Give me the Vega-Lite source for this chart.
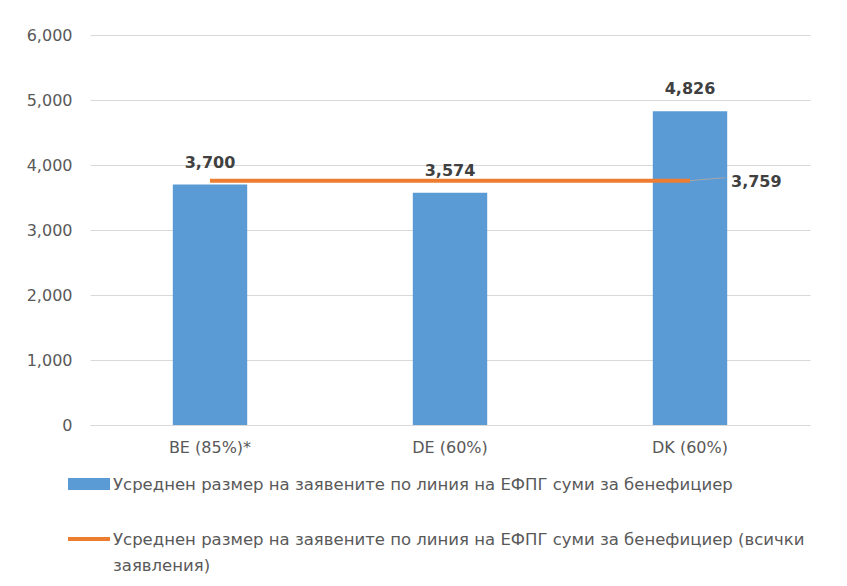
{
  "$schema": "https://vega.github.io/schema/vega-lite/v6.json",
  "width": 720,
  "height": 390,
  "autosize": {"type": "none"},
  "padding": {"left": 90, "top": 35, "right": 37, "bottom": 161},
  "background": "white",
  "config": {
    "font": "DejaVu Sans",
    "view": {"stroke": null}
  },
  "data": {
    "values": [
      {"country": "BE (85%)*", "series": "Усреднен размер на заявените по линия на ЕФПГ суми за бенефициер", "value": 3700},
      {"country": "DE (60%)", "series": "Усреднен размер на заявените по линия на ЕФПГ суми за бенефициер", "value": 3574},
      {"country": "DK (60%)", "series": "Усреднен размер на заявените по линия на ЕФПГ суми за бенефициер", "value": 4826},
      {"country": "BE (85%)*", "series": "Усреднен размер на заявените по линия на ЕФПГ суми за бенефициер (всички заявления)", "value": 3759},
      {"country": "DE (60%)", "series": "Усреднен размер на заявените по линия на ЕФПГ суми за бенефициер (всички заявления)", "value": 3759},
      {"country": "DK (60%)", "series": "Усреднен размер на заявените по линия на ЕФПГ суми за бенефициер (всички заявления)", "value": 3759}
    ]
  },
  "encoding": {
    "x": {
      "field": "country",
      "type": "nominal",
      "sort": null,
      "scale": {"paddingInner": 0.69, "paddingOuter": 0.345},
      "axis": {
        "title": null,
        "labelAngle": 0,
        "ticks": false,
        "domainColor": "#d9d9d9",
        "labelColor": "#595959",
        "labelFontSize": 16,
        "labelPadding": 14
      }
    },
    "y": {
      "field": "value",
      "type": "quantitative",
      "scale": {"domain": [0, 6000]},
      "axis": {
        "title": null,
        "values": [0, 1000, 2000, 3000, 4000, 5000, 6000],
        "format": ",.0f",
        "domain": false,
        "ticks": false,
        "gridColor": "#d9d9d9",
        "labelColor": "#595959",
        "labelFontSize": 16,
        "labelPadding": 18
      }
    }
  },
  "layer": [
    {
      "transform": [{"filter": "indexof(datum.series, 'всички') < 0"}],
      "mark": {"type": "bar"},
      "encoding": {
        "color": {
          "field": "series",
          "type": "nominal",
          "scale": {
            "domain": ["Усреднен размер на заявените по линия на ЕФПГ суми за бенефициер", "Усреднен размер на заявените по линия на ЕФПГ суми за бенефициер (всички заявления)"],
            "range": ["#5b9bd5", "#ed7d31"]
          },
          "legend": {
            "title": null,
            "orient": "none",
            "legendX": -22,
            "legendY": 428,
            "direction": "vertical",
            "labelFontSize": 16.5,
            "labelColor": "#595959",
            "labelLimit": 800,
            "labelOffset": 3,
            "rowPadding": 24,
            "symbolSize": 1764,
            "symbolType": "square",
            "labelExpr": "indexof(datum.label, 'всички') > 0 ? ['Усреднен размер на заявените по линия на ЕФПГ суми за бенефициер (всички', 'заявления)'] : datum.label",
            "encode": {
              "symbols": {
                "update": {
                  "shape": {"signal": "indexof(datum.value, 'всички') > 0 ? 'M-1,-0.09H1V0.09H-1Z' : 'M-1,-0.29H1V0.29H-1Z'"},
                  "fill": {"scale": "color", "field": "value"},
                  "strokeWidth": {"value": 0},
                  "opacity": {"value": 1}
                }
              },
              "labels": {
                "update": {
                  "lineHeight": {"value": 26},
                  "baseline": {"value": "alphabetic"},
                  "dy": {"value": 6}
                }
              }
            }
          }
        }
      }
    },
    {
      "transform": [{"filter": "indexof(datum.series, 'всички') > 0"}],
      "mark": {"type": "line", "strokeWidth": 4},
      "encoding": {
        "color": {"field": "series", "type": "nominal"}
      }
    },
    {
      "transform": [{"filter": "indexof(datum.series, 'всички') < 0"}],
      "mark": {"type": "text", "dy": -22, "fontSize": 16, "fontWeight": "bold", "color": "#404040"},
      "encoding": {
        "text": {"field": "value", "type": "quantitative", "format": ","}
      }
    },
    {
      "transform": [{"filter": "indexof(datum.series, 'всички') > 0 && datum.country == 'DK (60%)'"}],
      "mark": {"type": "rule", "color": "#a6a6a6", "strokeWidth": 1, "x2Offset": 35, "y2Offset": -3},
      "encoding": {
        "x2": {"field": "country"},
        "y2": {"field": "value"}
      }
    },
    {
      "transform": [{"filter": "indexof(datum.series, 'всички') > 0 && datum.country == 'DK (60%)'"}],
      "mark": {"type": "text", "align": "left", "dx": 41, "dy": 1, "fontSize": 16, "fontWeight": "bold", "color": "#404040"},
      "encoding": {
        "text": {"field": "value", "type": "quantitative", "format": ","}
      }
    }
  ]
}
